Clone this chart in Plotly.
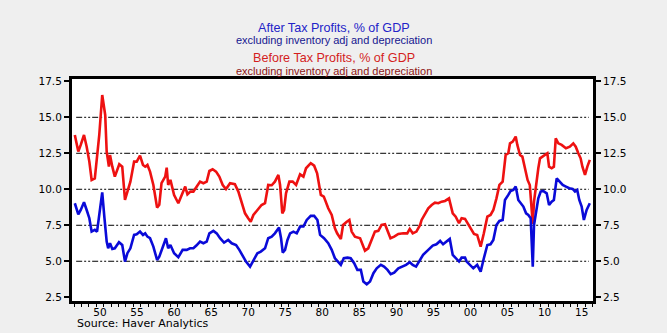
import plotly.graph_objects as go

# Before-tax corporate profits, % of GDP (ex inventory adj & depreciation)
before_tax_year = [
    1947.1, 1947.57, 1947.9, 1948.34, 1948.7, 1949.06, 1949.37, 1949.8, 1950.4, 1950.8,
    1951.2, 1951.4, 1951.7, 1951.85, 1952.16, 1952.5, 1953.1, 1953.5, 1953.87, 1954.2,
    1954.6, 1955.1, 1955.45, 1955.9, 1956.3, 1956.6, 1956.9, 1957.25, 1957.7, 1958.2,
    1958.5, 1958.8, 1959.3, 1959.5, 1959.7, 1960.0, 1960.5, 1961.07, 1961.5, 1962.0,
    1962.3, 1962.7, 1963.1, 1963.5, 1964.0, 1964.45, 1964.9, 1965.26, 1965.7, 1966.16,
    1966.6, 1967.06, 1967.5, 1968.05, 1968.7, 1969.17, 1969.6, 1970.07, 1970.5, 1970.84,
    1971.2, 1971.74, 1972.3, 1972.77, 1973.2, 1973.67, 1974.1, 1974.57, 1974.8, 1975.1,
    1975.34, 1975.6, 1976.06, 1976.5, 1976.96, 1977.5, 1977.95, 1978.3, 1978.94, 1979.4,
    1979.8, 1980.3, 1980.7, 1981.3, 1981.77, 1982.2, 1982.5, 1983.0, 1983.3, 1983.8,
    1984.15, 1984.46, 1984.9, 1985.6, 1985.95, 1986.26, 1986.7, 1987.2, 1987.6, 1988.06,
    1988.5, 1988.96, 1989.4, 1989.7, 1990.2, 1990.76, 1991.43, 1991.96, 1992.3, 1992.7,
    1993.2, 1993.7, 1993.9, 1994.36, 1994.8, 1995.26, 1995.7, 1996.16, 1996.6, 1997.06,
    1997.6, 1998.1, 1998.5, 1998.95, 1999.3, 1999.76, 1999.98, 2000.5, 2000.97, 2001.4,
    2001.87, 2002.3, 2002.77, 2003.2, 2003.58, 2004.0, 2004.4, 2004.84, 2005.24, 2005.6,
    2005.83, 2006.2, 2006.6, 2006.82, 2007.18, 2007.5, 2007.85, 2008.2, 2008.5, 2008.75,
    2008.9, 2009.07, 2009.34, 2009.65, 2009.88, 2010.2, 2010.55, 2010.87, 2011.1, 2011.45,
    2011.75, 2012.0, 2012.35, 2012.8, 2013.38, 2013.9, 2014.37, 2014.7, 2015.05, 2015.36,
    2015.6, 2015.95, 2016.27, 2016.6,
]
before_tax = [
    13.77, 12.62, 13.08, 13.77, 12.96, 11.92, 10.65, 10.76, 13.77, 16.55,
    15.16, 12.62, 11.57, 12.38, 11.57, 10.88, 11.74, 11.57, 9.26, 9.84,
    10.53, 11.92, 11.92, 12.34, 11.69, 11.57, 11.69, 11.23, 10.30, 8.73,
    8.92, 10.42, 10.88, 11.50, 10.30, 10.65, 9.60, 9.03, 9.60, 10.19,
    9.65, 9.84, 9.84, 10.19, 10.53, 10.42, 10.53, 11.27, 11.39, 11.23,
    10.88, 10.30, 10.02, 10.42, 10.35, 9.84, 9.14, 8.33, 7.99, 7.75,
    8.22, 8.56, 8.91, 9.03, 10.30, 10.28, 10.53, 11.00, 10.30, 8.33,
    8.56, 9.72, 10.53, 10.53, 10.30, 11.04, 10.88, 11.46, 11.81, 11.64,
    11.11, 9.61, 9.49, 8.68, 8.22, 7.29, 6.94, 6.55, 7.52, 7.75,
    7.87, 7.06, 6.71, 6.60, 6.13, 5.74, 5.90, 6.60, 7.06, 7.11,
    7.52, 7.57, 7.06, 6.60, 6.71, 6.90, 6.94, 6.94, 7.25, 6.94,
    7.06, 7.52, 7.87, 8.33, 8.68, 8.91, 9.07, 9.03, 9.14, 9.19,
    9.37, 8.33, 8.10, 7.64, 7.99, 7.94, 7.75, 7.29, 6.90, 6.83,
    6.02, 6.94, 8.10, 8.22, 8.56, 9.37, 10.30, 10.53, 12.38, 12.50,
    13.19, 13.31, 13.66, 13.08, 12.38, 12.27, 11.34, 10.65, 10.30, 8.91,
    7.60, 9.14, 10.30, 11.46, 12.15, 12.27, 12.38, 12.50, 11.57, 11.46,
    11.57, 13.54, 13.19, 13.08, 12.85, 12.96, 13.19, 12.96, 12.50, 12.15,
    11.57, 11.00, 11.57, 12.04,
]

# After-tax corporate profits, % of GDP (ex inventory adj & depreciation)
after_tax_year = [
    1947.1, 1947.57, 1947.9, 1948.34, 1948.7, 1949.06, 1949.37, 1949.8, 1950.1, 1950.8,
    1951.1, 1951.4, 1951.6, 1951.85, 1952.16, 1952.5, 1953.06, 1953.5, 1953.87, 1954.2,
    1954.6, 1955.1, 1955.45, 1955.9, 1956.3, 1956.6, 1956.9, 1957.25, 1957.7, 1958.2,
    1958.5, 1958.95, 1959.4, 1959.7, 1960.0, 1960.5, 1961.07, 1961.65, 1962.2, 1962.65,
    1963.1, 1963.5, 1964.0, 1964.45, 1964.9, 1965.26, 1965.8, 1966.25, 1966.7, 1967.24,
    1967.8, 1968.27, 1968.86, 1969.3, 1969.76, 1970.2, 1970.75, 1971.2, 1971.74, 1972.2,
    1972.77, 1973.2, 1973.67, 1974.1, 1974.66, 1974.93, 1975.16, 1975.47, 1975.8, 1976.15,
    1976.6, 1977.05, 1977.5, 1977.95, 1978.4, 1978.94, 1979.4, 1979.84, 1980.2, 1980.73,
    1981.3, 1981.77, 1982.2, 1982.4, 1983.0, 1983.4, 1983.9, 1984.33, 1984.8, 1985.23,
    1985.7, 1986.04, 1986.5, 1986.94, 1987.4, 1987.84, 1988.4, 1988.83, 1989.3, 1989.73,
    1990.2, 1990.76, 1991.35, 1991.8, 1992.3, 1992.7, 1993.15, 1993.6, 1994.1, 1994.8,
    1995.4, 1995.9, 1996.4, 1996.8, 1997.3, 1997.7, 1998.1, 1998.5, 1998.95, 1999.3,
    1999.76, 1999.98, 2000.43, 2000.88, 2001.4, 2001.87, 2002.3, 2002.77, 2003.2, 2003.58,
    2004.0, 2004.4, 2004.84, 2005.15, 2005.6, 2005.9, 2006.28, 2006.6, 2006.95, 2007.27,
    2007.63, 2008.0, 2008.3, 2008.62, 2008.9, 2009.07, 2009.34, 2009.65, 2009.97, 2010.3,
    2010.78, 2011.1, 2011.45, 2011.75, 2012.13, 2012.5, 2012.94, 2013.38, 2013.83, 2014.28,
    2014.6, 2014.9, 2015.18, 2015.5, 2015.8, 2016.17, 2016.6,
]
after_tax = [
    9.03, 8.26, 8.56, 9.10, 8.56, 7.99, 7.06, 7.18, 7.06, 9.79,
    7.99, 6.37, 5.90, 6.25, 5.86, 5.90, 6.32, 6.13, 4.98, 5.56,
    5.90, 6.83, 6.87, 7.06, 6.83, 6.94, 6.71, 6.60, 6.02, 5.09,
    5.32, 6.02, 6.60, 5.90, 6.13, 5.56, 5.28, 5.79, 5.79, 5.90,
    5.90, 6.09, 6.37, 6.25, 6.37, 6.94, 7.11, 6.94, 6.60, 6.30,
    6.48, 6.25, 6.13, 5.79, 5.32, 4.98, 4.63, 5.09, 5.56, 5.67,
    5.90, 6.60, 6.71, 6.94, 7.34, 6.60, 5.60, 5.79, 6.48, 6.94,
    7.06, 6.94, 7.41, 7.41, 7.87, 8.15, 8.15, 7.87, 6.83, 6.60,
    6.25, 5.79, 5.21, 5.09, 4.75, 5.21, 5.25, 5.21, 4.86, 4.40,
    4.40, 3.59, 3.40, 3.59, 4.17, 4.51, 4.75, 4.63, 4.40, 4.10,
    4.21, 4.51, 4.63, 4.75, 4.93, 4.75, 4.63, 4.98, 5.44, 5.79,
    6.09, 6.18, 6.41, 6.18, 6.37, 6.55, 5.44, 5.21, 4.98, 5.25,
    5.25, 4.98, 4.75, 4.51, 4.75, 4.28, 5.21, 6.13, 6.18, 6.48,
    7.52, 7.80, 7.87, 9.26, 9.61, 9.88, 9.95, 10.19, 9.26, 9.03,
    8.80, 8.33, 8.22, 7.99, 4.63, 7.52, 8.45, 9.37, 9.84, 9.88,
    9.72, 8.91, 9.14, 9.26, 10.76, 10.53, 10.30, 10.19, 10.07, 10.02,
    9.84, 9.95, 9.26, 8.80, 7.87, 8.56, 9.03,
]

# Axis labelling
year_tick_pos = [1950.5, 1955.5, 1960.5, 1965.5, 1970.5, 1975.5, 1980.5, 1985.5,
                 1990.5, 1995.5, 2000.5, 2005.5, 2010.5, 2015.5]
year_tick_text = ["50", "55", "60", "65", "70", "75", "80", "85",
                  "90", "95", "00", "05", "10", "15"]
value_ticks = [2.5, 5.0, 7.5, 10.0, 12.5, 15.0, 17.5]
value_tick_text = ["2.5", "5.0", "7.5", "10.0", "12.5", "15.0", "17.5"]
grid_values = [5.0, 7.5, 10.0, 12.5, 15.0]

X_RANGE = [1946.72, 2017.03]
Y_RANGE = [2.24, 17.66]
TICK_FONT = dict(family="DejaVu Sans", size=10.5, color="#000000")

fig = go.Figure()

fig.add_trace(go.Scatter(
    x=before_tax_year, y=before_tax, mode="lines",
    line=dict(color="#ee1111", width=2.6), name="Before Tax", showlegend=False,
))
fig.add_trace(go.Scatter(
    x=after_tax_year, y=after_tax, mode="lines",
    line=dict(color="#0a0ad8", width=2.6), name="After Tax", showlegend=False,
))

# Dash-dot horizontal grid lines
for v in grid_values:
    fig.add_shape(type="line", xref="paper", yref="y", x0=0.008, x1=0.992, y0=v, y1=v,
                  line=dict(color="#000000", width=1, dash="6px,2px,2px,2px,2px,2px"),
                  layer="below")

# Titles
titles = [
    ("After Tax Profits, % of GDP", 27.5, 12.6, "#2323c8"),
    ("excluding inventory adj and depreciation", 40.5, 11, "#16168f"),
    ("Before Tax Profits, % of GDP", 57.5, 12.6, "#d41e1e"),
    ("excluding inventory adj and depreciation", 70.5, 11, "#8e1414"),
]
for text, ypix, size, color in titles:
    fig.add_annotation(text=text, xref="paper", yref="paper",
                       x=(333.5 - 72) / 521, y=1 + (79 - ypix) / 222,
                       xanchor="center", yanchor="middle", showarrow=False,
                       font=dict(family="Liberation Sans, Arial", size=size, color=color))

fig.add_annotation(text="Source: Haver Analytics", xref="paper", yref="paper",
                   x=(75 - 72) / 521, y=-(323 - 301) / 222, xanchor="left", yanchor="middle",
                   showarrow=False, font=dict(family="DejaVu Sans", size=11, color="#000000"))

fig.update_layout(
    width=667, height=333,
    margin=dict(l=72, r=74, t=79, b=32),
    paper_bgcolor="#efefef", plot_bgcolor="#ffffff",
    xaxis=dict(
        range=X_RANGE, tickmode="array", tickvals=year_tick_pos, ticktext=year_tick_text,
        ticks="", tickfont=TICK_FONT, showgrid=False, zeroline=False,
        showline=True, linecolor="#000000", linewidth=2.5, mirror=True,
        minor=dict(ticks="outside", dtick=1, tick0=1947, ticklen=3, tickcolor="#000000",
                   showgrid=False),
        fixedrange=True,
    ),
    yaxis=dict(
        range=Y_RANGE, tickmode="array", tickvals=value_ticks, ticktext=value_tick_text,
        ticks="outside", ticklen=5, tickwidth=1.5, tickcolor="#000000",
        tickfont=TICK_FONT, showgrid=False, zeroline=False,
        showline=True, linecolor="#000000", linewidth=3, side="left",
    ),
    yaxis2=dict(
        range=Y_RANGE, overlaying="y", side="right", tickmode="array",
        tickvals=value_ticks, ticktext=value_tick_text,
        ticks="outside", ticklen=5, tickwidth=1.5, tickcolor="#000000",
        tickfont=TICK_FONT, showgrid=False, zeroline=False,
        showline=True, linecolor="#000000", linewidth=3,
    ),
)

# Invisible trace so the right-hand axis is rendered
fig.add_trace(go.Scatter(x=[X_RANGE[0]], y=[Y_RANGE[0]], yaxis="y2", mode="markers",
                         marker=dict(opacity=0), showlegend=False, hoverinfo="skip"))

fig.write_html("out.html")
